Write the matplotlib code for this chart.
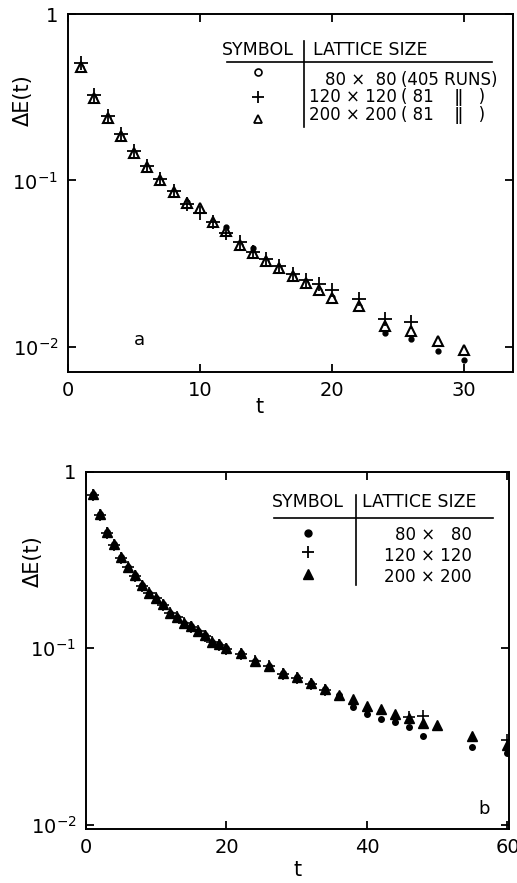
import numpy as np
import matplotlib
matplotlib.use("Agg")
import matplotlib.pyplot as plt

plt.rcParams['font.family'] = ['DejaVu Sans']
plt.rcParams['mathtext.fontset'] = 'dejavusans'

# panel a data (t, delta E)
t_a = [1, 2, 3, 4, 5, 6, 7, 8, 9, 10, 11, 12, 13, 14, 15, 16, 17, 18, 19, 20, 22, 24, 26, 28, 30]
tri_a = [0.483, 0.312, 0.237, 0.184, 0.146, 0.121, 0.100, 0.0848, 0.0731, 0.0680, 0.0560, 0.0494,
         0.0411, 0.0367, 0.0327, 0.0298, 0.0265, 0.0242, 0.0221, 0.0197, 0.0175, 0.0133, 0.0124, 0.0108, 0.0096]
dot_a = [0.483, 0.312, 0.237, 0.184, 0.146, 0.121, 0.100, 0.0848, 0.0740, 0.0667, 0.0560, 0.0527,
         0.0411, 0.0393, 0.0327, 0.0298, 0.0265, 0.0242, 0.0221, 0.0200, 0.0175, 0.0121, 0.0112, 0.0094, 0.0083]
t_a_cross = [1, 2, 3, 4, 5, 6, 7, 8, 9, 10, 11, 12, 13, 14, 15, 16, 17, 18, 19, 20, 22, 24, 26]
cross_a = [0.506, 0.327, 0.245, 0.190, 0.151, 0.123, 0.102, 0.0860, 0.0720, 0.0640, 0.0560, 0.0480,
           0.0428, 0.0370, 0.0335, 0.0305, 0.0275, 0.0253, 0.0238, 0.0221, 0.0193, 0.0146, 0.0140]

# panel b data
t_b = [1, 2, 3, 4, 5, 6, 7, 8, 9, 10, 11, 12, 13, 14, 15, 16, 17, 18, 19, 20,
       22, 24, 26, 28, 30, 32, 34, 36, 38, 40, 42, 44, 46, 48, 50, 55, 60]
tri_b = [0.748, 0.576, 0.457, 0.390, 0.328, 0.290, 0.260, 0.228, 0.206, 0.194, 0.178, 0.159, 0.151,
         0.140, 0.133, 0.126, 0.119, 0.109, 0.106, 0.100, 0.0937, 0.0851, 0.0794, 0.0722, 0.0685,
         0.0633, 0.0586, 0.0544, 0.0514, 0.0471, 0.0451, 0.0425, 0.0402, 0.0376, 0.0368, 0.0319, 0.0283]
t_b_dot = [1, 2, 3, 4, 5, 6, 7, 8, 9, 10, 11, 12, 13, 14, 15, 16, 17, 18, 19, 20,
           22, 24, 26, 28, 30, 32, 34, 36, 38, 40, 42, 44, 46, 48, 55, 60]
dot_b = [0.748, 0.576, 0.457, 0.390, 0.328, 0.290, 0.260, 0.228, 0.206, 0.194, 0.178, 0.159, 0.151,
         0.140, 0.133, 0.126, 0.119, 0.109, 0.106, 0.100, 0.0937, 0.0851, 0.0794, 0.0722, 0.0685,
         0.0633, 0.0586, 0.0544, 0.0467, 0.0425, 0.0399, 0.0381, 0.0357, 0.0320, 0.0277, 0.0254]
t_b_cross = [1, 2, 3, 4, 5, 6, 7, 8, 9, 10, 11, 12, 13, 14, 15, 16, 17, 18, 19, 20,
             22, 24, 26, 28, 30, 32, 34, 46, 48, 60]
cross_b = [0.740, 0.570, 0.452, 0.386, 0.325, 0.287, 0.258, 0.226, 0.205, 0.192, 0.176, 0.158, 0.150,
           0.139, 0.132, 0.125, 0.118, 0.108, 0.105, 0.0995, 0.0930, 0.0845, 0.0790, 0.0718, 0.0680,
           0.0630, 0.0583, 0.0410, 0.0414, 0.0303]

sizes_a = ["80 \u00d7  80", "120 \u00d7 120", "200 \u00d7 200"]
runs_a = ["(405 RUNS)", "( 81    \u01c1   )", "( 81    \u01c1   )"]
sizes_b = ["80 \u00d7   80", "120 \u00d7 120", "200 \u00d7 200"]

fig = plt.figure(figsize=(5.17, 8.83), dpi=100)
ax1 = fig.add_axes([0.1315, 0.579, 0.861, 0.405])
ax2 = fig.add_axes([0.1663, 0.0615, 0.818, 0.4043])

def style(ax):
    ax.set_yscale('log')
    for s in ax.spines.values():
        s.set_linewidth(1.4)
    ax.tick_params(which='both', direction='in', top=True, right=True, length=6, width=1.3,
                   labelsize=14, pad=7)
    ax.minorticks_off()
    ax.set_ylabel("\u0394E(t)", fontsize=15)

# ---- panel a
style(ax1)
ax1.plot(t_a, dot_a, 'o', color='black', ms=3.5, ls='none')
ax1.plot(t_a, tri_a, '^', mfc='white', mec='black', mew=1.5, ms=7.5, ls='none')
ax1.plot(t_a_cross, cross_a, '+', color='black', mew=1.3, ms=10, ls='none')
ax1.set_xlim(0, 33.7)
ax1.set_ylim(10 ** -2.15, 1)
ax1.set_xticks([0, 10, 20, 30])
ax1.set_yticks([1e-2, 1e-1, 1])
ax1.set_yticklabels([r'$10^{-2}$', r'$10^{-1}$', '1'])
ax1.set_xlabel("t", fontsize=15)
ax1.xaxis.set_label_coords(0.43, -0.07)
ax1.yaxis.set_label_coords(-0.08, 0.76)
ax1.text(0.16, 0.09, "a", transform=ax1.transAxes, fontsize=13, ha='center', va='center')

tr = ax1.transAxes
ax1.text(0.427, 0.899, "SYMBOL", transform=tr, fontsize=12.5, ha='center', va='center')
ax1.text(0.551, 0.899, "LATTICE SIZE", transform=tr, fontsize=12.5, ha='left', va='center')
ax1.plot([0.357, 0.953], [0.866, 0.866], color='black', lw=1.2, transform=tr)
ax1.plot([0.530, 0.530], [0.925, 0.684], color='black', lw=1.2, transform=tr)
ax1.plot([0.427], [0.837], 'o', mfc='white', mec='black', ms=5, mew=1.2, transform=tr)
ax1.plot([0.427], [0.769], '+', color='black', ms=8, mew=1.3, transform=tr)
ax1.plot([0.427], [0.706], '^', mfc='white', mec='black', ms=6, mew=1.3, transform=tr)
for yy, s, r in zip([0.815, 0.769, 0.718], sizes_a, runs_a):
    ax1.text(0.738, yy, s, transform=tr, fontsize=12, ha='right', va='center')
    ax1.text(0.748, yy, r, transform=tr, fontsize=12, ha='left', va='center')

# ---- panel b
style(ax2)
ax2.plot(t_b_dot, dot_b, 'o', color='black', ms=4, ls='none')
ax2.plot(t_b, tri_b, '^', color='black', ms=7, ls='none')
ax2.plot(t_b_cross, cross_b, '+', color='black', mew=1.2, ms=9, ls='none')
ax2.set_xlim(0, 60.2)
ax2.set_ylim(10 ** -2.021, 1)
ax2.set_xticks([0, 20, 40, 60])
ax2.set_yticks([1e-2, 1e-1, 1])
ax2.set_yticklabels([r'$10^{-2}$', r'$10^{-1}$', '1'])
ax2.set_xlabel("t", fontsize=15, labelpad=2)
ax2.yaxis.set_label_coords(-0.102, 0.75)
ax2.text(0.942, 0.055, "b", transform=ax2.transAxes, fontsize=13, ha='center', va='center')

tr = ax2.transAxes
ax2.text(0.525, 0.916, "SYMBOL", transform=tr, fontsize=12.5, ha='center', va='center')
ax2.text(0.652, 0.916, "LATTICE SIZE", transform=tr, fontsize=12.5, ha='left', va='center')
ax2.plot([0.444, 0.962], [0.869, 0.869], color='black', lw=1.2, transform=tr)
ax2.plot([0.638, 0.638], [0.935, 0.683], color='black', lw=1.2, transform=tr)
ax2.plot([0.525], [0.827], 'o', color='black', ms=5, transform=tr)
ax2.plot([0.525], [0.776], '+', color='black', ms=8, mew=1.3, transform=tr)
ax2.plot([0.525], [0.713], '^', color='black', ms=7, transform=tr)
for yy, s in zip([0.823, 0.764, 0.706], sizes_b):
    ax2.text(0.912, yy, s, transform=tr, fontsize=12, ha='right', va='center')

fig.savefig("out.png", dpi=100)
